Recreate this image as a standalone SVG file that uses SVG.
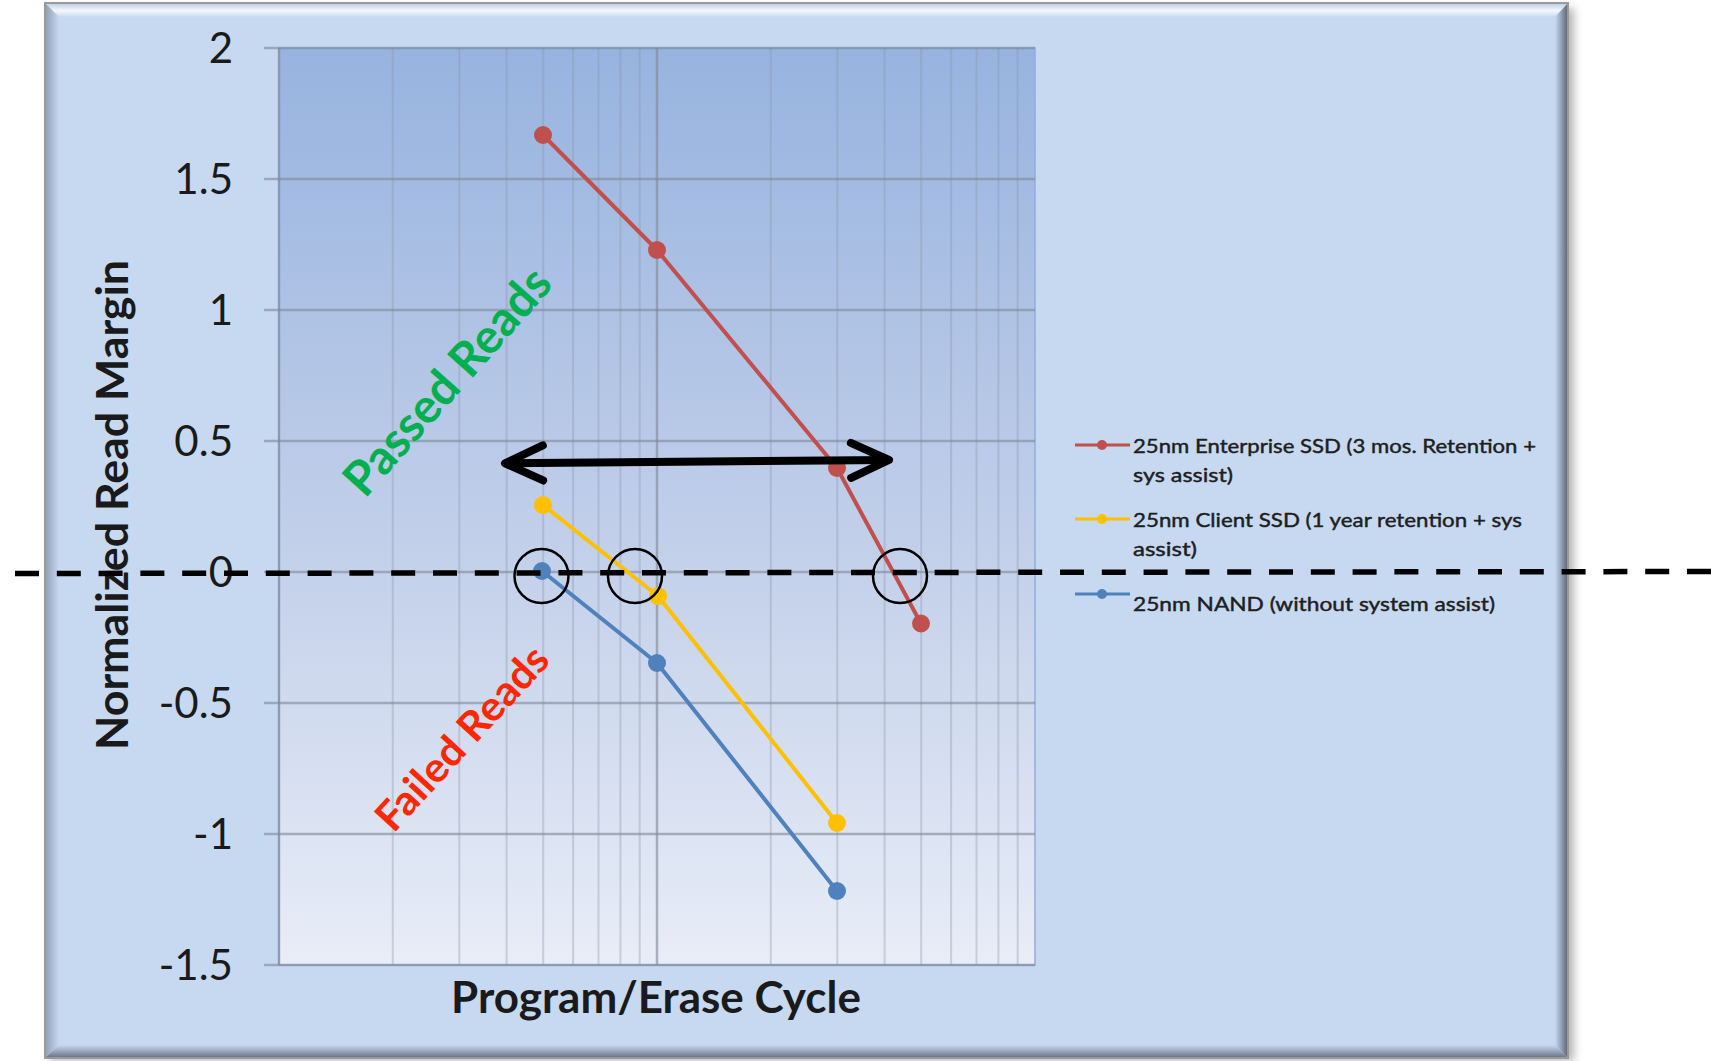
<svg xmlns="http://www.w3.org/2000/svg" width="1711" height="1061" viewBox="0 0 1711 1061">
  <defs>
    <linearGradient id="plotFill" x1="0" y1="0" x2="0" y2="1">
      <stop offset="0" stop-color="#97B3DF"/>
      <stop offset="0.55" stop-color="#C3D0EA"/>
      <stop offset="1" stop-color="#E8EDF7"/>
    </linearGradient>
    <linearGradient id="bevelTop" x1="0" y1="0" x2="0" y2="1">
      <stop offset="0" stop-color="#B9CBE3"/>
      <stop offset="0.55" stop-color="#F4F8FD"/>
      <stop offset="1" stop-color="#C6D9F1"/>
    </linearGradient>
    <linearGradient id="bevelLeft" x1="0" y1="0" x2="1" y2="0">
      <stop offset="0" stop-color="#8E9DB2"/>
      <stop offset="1" stop-color="#C6D9F1"/>
    </linearGradient>
    <linearGradient id="bevelRight" x1="0" y1="0" x2="1" y2="0">
      <stop offset="0" stop-color="#C6D9F1"/>
      <stop offset="1" stop-color="#5A6374"/>
    </linearGradient>
    <linearGradient id="bevelBottom" x1="0" y1="0" x2="0" y2="1">
      <stop offset="0" stop-color="#C6D9F1"/>
      <stop offset="1" stop-color="#66707F"/>
    </linearGradient>
    <filter id="soft" x="-5%" y="-5%" width="110%" height="110%">
      <feGaussianBlur stdDeviation="4"/>
    </filter>
    <marker id="chevron" markerUnits="userSpaceOnUse" viewBox="-50 -30 60 60" refX="0" refY="0" markerWidth="60" markerHeight="60" orient="auto-start-reverse" overflow="visible">
      <path d="M-38,-17.5 L0,0 L-38,17.5" fill="none" stroke="#000" stroke-width="8" stroke-linecap="round" stroke-linejoin="round"/>
    </marker>
    <style>
      .tick { font-family: Lato, "Open Sans", sans-serif; font-size: 42px; fill: #1a1a1a; text-anchor: end; }
      .title { font-family: Lato, "Open Sans", sans-serif; font-size: 43px; font-weight: bold; fill: #1a1a1a; text-anchor: middle; }
      .legend { font-family: Lato, "Open Sans", sans-serif; font-size: 20px; fill: #1e1e1e; stroke: #1e1e1e; stroke-width: 0.45; }
      .hgrid { stroke: #7F8796; stroke-opacity: 0.6; stroke-width: 2.5; }
      .vminor { stroke: #8A94A6; stroke-opacity: 0.35; stroke-width: 2; }
      .vmajor { stroke: #7F8796; stroke-opacity: 0.6; stroke-width: 2.5; }
      .series { fill: none; stroke-width: 4; stroke-linejoin: round; }
      .ring { fill: none; stroke: #000; stroke-width: 2.5; }
      .zone { font-family: Lato, "Open Sans", sans-serif; font-weight: bold; text-anchor: middle; }
    </style>
  </defs>

  <rect width="1711" height="1061" fill="#FFFFFF"/>

  <!-- chart frame with bevelled edge and drop shadow -->
  <g id="frame">
    <rect x="50" y="8" width="1524" height="1053" fill="#7A7A7A" opacity="0.55" filter="url(#soft)"/>
    <rect x="45" y="3" width="1523" height="1055" fill="#C6D9F1"/>
    <polygon points="45,3 1568,3 1555,17 59,17" fill="url(#bevelTop)"/>
    <polygon points="45,3 59,17 59,1045 45,1058" fill="url(#bevelLeft)"/>
    <polygon points="1568,3 1568,1058 1555,1045 1555,17" fill="url(#bevelRight)"/>
    <polygon points="45,1058 1568,1058 1555,1045 59,1045" fill="url(#bevelBottom)"/>
    <rect x="45" y="3" width="1523" height="1055" fill="none" stroke="#9A9A9A" stroke-width="2"/>
  </g>

  <!-- plot area and grid (log x axis, two decades) -->
  <g id="plot-area">
    <rect x="279" y="48" width="756" height="917" fill="url(#plotFill)" stroke="#90AEDA" stroke-width="1.5"/>
    <g id="vertical-grid">
      <line class="vminor" x1="392.8" y1="48" x2="392.8" y2="965"/>
      <line class="vminor" x1="459.3" y1="48" x2="459.3" y2="965"/>
      <line class="vminor" x1="506.6" y1="48" x2="506.6" y2="965"/>
      <line class="vminor" x1="543.2" y1="48" x2="543.2" y2="965"/>
      <line class="vminor" x1="573.1" y1="48" x2="573.1" y2="965"/>
      <line class="vminor" x1="598.5" y1="48" x2="598.5" y2="965"/>
      <line class="vminor" x1="620.4" y1="48" x2="620.4" y2="965"/>
      <line class="vminor" x1="639.7" y1="48" x2="639.7" y2="965"/>
      <line class="vmajor" x1="657" y1="48" x2="657" y2="965"/>
      <line class="vminor" x1="770.8" y1="48" x2="770.8" y2="965"/>
      <line class="vminor" x1="837.3" y1="48" x2="837.3" y2="965"/>
      <line class="vminor" x1="884.6" y1="48" x2="884.6" y2="965"/>
      <line class="vminor" x1="921.2" y1="48" x2="921.2" y2="965"/>
      <line class="vminor" x1="951.1" y1="48" x2="951.1" y2="965"/>
      <line class="vminor" x1="976.5" y1="48" x2="976.5" y2="965"/>
      <line class="vminor" x1="998.4" y1="48" x2="998.4" y2="965"/>
      <line class="vminor" x1="1017.7" y1="48" x2="1017.7" y2="965"/>
      <line class="vmajor" x1="279" y1="48" x2="279" y2="965"/>
    </g>
    <g id="horizontal-grid">
      <line class="hgrid" x1="264" y1="48" x2="1035" y2="48"/>
      <line class="hgrid" x1="264" y1="179" x2="1035" y2="179"/>
      <line class="hgrid" x1="264" y1="310" x2="1035" y2="310"/>
      <line class="hgrid" x1="264" y1="441" x2="1035" y2="441"/>
      <line class="hgrid" x1="264" y1="572" x2="1035" y2="572"/>
      <line class="hgrid" x1="264" y1="703" x2="1035" y2="703"/>
      <line class="hgrid" x1="264" y1="834" x2="1035" y2="834"/>
      <line class="hgrid" x1="264" y1="965" x2="1035" y2="965"/>
    </g>
  </g>

  <!-- axis labels -->
  <g id="y-axis">
    <text class="tick" x="233" y="63">2</text>
    <text class="tick" x="233" y="194">1.5</text>
    <text class="tick" x="233" y="325">1</text>
    <text class="tick" x="233" y="456">0.5</text>
    <text class="tick" x="233" y="587">0</text>
    <text class="tick" x="233" y="718">-0.5</text>
    <text class="tick" x="233" y="849">-1</text>
    <text class="tick" x="233" y="980">-1.5</text>
    <text class="title" transform="translate(128,505) rotate(-90)" x="0" y="0" textLength="490" lengthAdjust="spacingAndGlyphs">Normalized Read Margin</text>
  </g>
  <g id="x-axis">
    <text class="title" x="656" y="1013" textLength="410" lengthAdjust="spacingAndGlyphs">Program/Erase Cycle</text>
  </g>

  <!-- data series -->
  <g id="series-enterprise">
    <polyline class="series" stroke="#C0504D" points="543,135 657,250 837,468 921,623.5"/>
    <g fill="#C0504D">
      <circle cx="543" cy="135" r="9"/>
      <circle cx="657" cy="250" r="9"/>
      <circle cx="837" cy="468" r="9"/>
      <circle cx="921" cy="623.5" r="9"/>
    </g>
  </g>
  <g id="series-client">
    <polyline class="series" stroke="#FFC000" points="543,505 658,596 837,823"/>
    <g fill="#FFC000">
      <circle cx="543" cy="505" r="9"/>
      <circle cx="658" cy="596" r="9"/>
      <circle cx="837" cy="823" r="9"/>
    </g>
  </g>
  <g id="series-nand">
    <polyline class="series" stroke="#4F81BD" points="542,571 657,663 837,891"/>
    <g fill="#4F81BD">
      <circle cx="542" cy="571" r="9"/>
      <circle cx="657" cy="663" r="9"/>
      <circle cx="837" cy="891" r="9"/>
    </g>
  </g>

  <!-- legend -->
  <g id="legend">
    <g id="legend-enterprise">
      <line x1="1075" y1="445" x2="1130" y2="445" stroke="#C0504D" stroke-width="3"/>
      <circle cx="1102" cy="445" r="5" fill="#C0504D"/>
      <text class="legend" x="1133" y="453" textLength="403" lengthAdjust="spacingAndGlyphs">25nm Enterprise SSD (3 mos. Retention +</text>
      <text class="legend" x="1133" y="482" textLength="100" lengthAdjust="spacingAndGlyphs">sys assist)</text>
    </g>
    <g id="legend-client">
      <line x1="1075" y1="519" x2="1130" y2="519" stroke="#FFC000" stroke-width="3"/>
      <circle cx="1102" cy="519" r="5" fill="#FFC000"/>
      <text class="legend" x="1133" y="527" textLength="389" lengthAdjust="spacingAndGlyphs">25nm Client SSD (1 year retention + sys</text>
      <text class="legend" x="1133" y="556" textLength="64" lengthAdjust="spacingAndGlyphs">assist)</text>
    </g>
    <g id="legend-nand">
      <line x1="1075" y1="594" x2="1130" y2="594" stroke="#4F81BD" stroke-width="3"/>
      <circle cx="1102" cy="594" r="5" fill="#4F81BD"/>
      <text class="legend" x="1133" y="611" textLength="362" lengthAdjust="spacingAndGlyphs">25nm NAND (without system assist)</text>
    </g>
  </g>

  <!-- region labels -->
  <g id="label-passed">
    <text class="zone" font-size="48" fill="#00B050" transform="translate(447,381) rotate(-48.5)" x="0" y="17" textLength="286" lengthAdjust="spacingAndGlyphs">Passed Reads</text>
  </g>
  <g id="label-failed">
    <text class="zone" font-size="41" fill="#FF2600" transform="translate(461.5,737.5) rotate(-47.5)" x="0" y="15" textLength="234" lengthAdjust="spacingAndGlyphs">Failed Reads</text>
  </g>

  <!-- annotations: zero-margin threshold, span arrow, crossing rings -->
  <g id="connectors">
    <line id="threshold" x1="15" y1="573.5" x2="1711" y2="571.5" stroke="#000" stroke-width="5.5" stroke-dasharray="24 17.8"/>
    <line id="span-arrow" x1="505" y1="463.3" x2="889" y2="460" stroke="#000" stroke-width="8" marker-start="url(#chevron)" marker-end="url(#chevron)"/>
    <circle class="ring" cx="541.5" cy="576" r="27"/>
    <circle class="ring" cx="635" cy="576" r="27"/>
    <circle class="ring" cx="900" cy="576" r="27"/>
  </g>
</svg>
